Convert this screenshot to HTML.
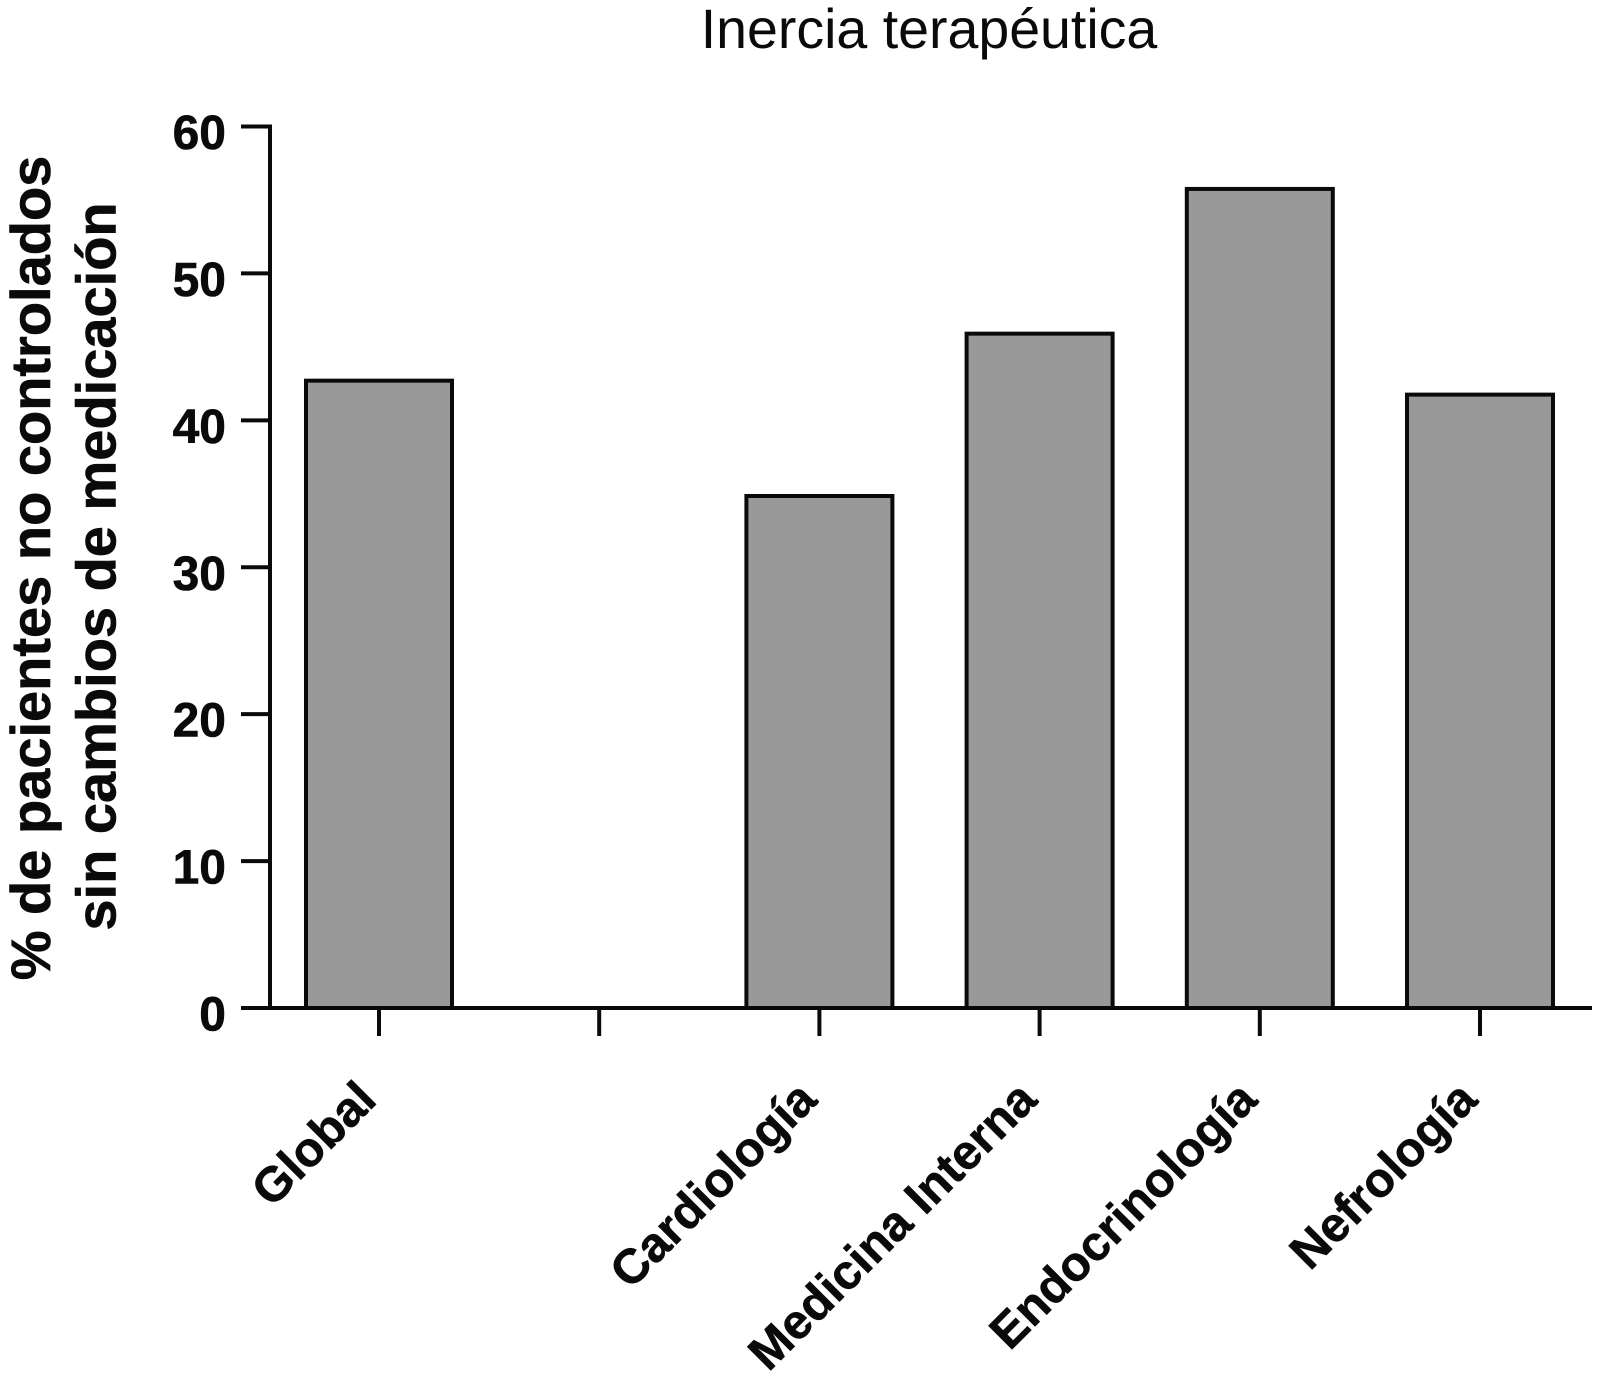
<!DOCTYPE html>
<html lang="es">
<head>
<meta charset="utf-8">
<title>Inercia terapéutica</title>
<style>
html,body{margin:0;padding:0;background:#fff;width:1597px;height:1389px;overflow:hidden}
svg{display:block}
text{font-family:"Liberation Sans",Arial,sans-serif;fill:#0a0a0a}
.b{font-weight:700;stroke:#0a0a0a;stroke-width:0.6px}
</style>
</head>
<body>
<svg id="chart" width="1597" height="1389" viewBox="0 0 1597 1389" xmlns="http://www.w3.org/2000/svg">
  <rect x="0" y="0" width="1597" height="1389" fill="#fff"/>
  <text x="929" y="48" font-size="55.5" text-anchor="middle">Inercia terapéutica</text>
  <text class="b" transform="translate(50 568) rotate(-90)" font-size="56" text-anchor="middle">% de pacientes no controlados</text>
  <text class="b" transform="translate(115.5 566.5) rotate(-90)" font-size="56" text-anchor="middle">sin cambios de medicación</text>
  <g id="bars"></g>
  <g id="axes"></g>
</svg>
<script>
const categories = ["Global", "", "Cardiología", "Medicina Interna", "Endocrinología", "Nefrología"];
const values = [42.7, null, 34.85, 45.9, 55.75, 41.75];
const yTicks = [0, 10, 20, 30, 40, 50, 60];

const NS = "http://www.w3.org/2000/svg";
const y0 = 1008, y60 = 126.5, x0 = 379, step = 220.2, barW = 146, ink = "#0a0a0a", sw = 4;
function yScale(v) { return y0 - (v - 0) * (y0 - y60) / 60; }
function xScale(i) { return x0 + i * step; }
function make(tag, attrs, parent) {
  const el = document.createElementNS(NS, tag);
  for (const k in attrs) el.setAttribute(k, attrs[k]);
  parent.appendChild(el);
  return el;
}
const barsG = document.getElementById("bars");
const axesG = document.getElementById("axes");

values.forEach(function (v, i) {
  if (v === null) return;
  const top = yScale(v);
  const bar = make("rect", { x: xScale(i) - barW / 2, y: top, width: barW, height: y0 - top, fill: "#999999", stroke: ink, "stroke-width": sw }, barsG);
  
  
});

const yLine = make("line", { x1: 270, x2: 270, y1: yScale(60) - sw / 2, y2: y0, stroke: ink, "stroke-width": sw }, axesG);



const xLine = make("line", { x1: 241, x2: 1592, y1: y0, y2: y0, stroke: ink, "stroke-width": sw }, axesG);



yTicks.forEach(function (t) {
  const y = yScale(t);
  const tick = make("line", { x1: 241, x2: 270, y1: y, y2: y, stroke: ink, "stroke-width": sw }, axesG);
  
  
  const label = make("text", { x: 226, y: y + 22.5, "font-size": 48, "text-anchor": "end", class: "b" }, axesG);
  
  
  label.textContent = String(t);
});

categories.forEach(function (c, i) {
  const x = xScale(i);
  const tick = make("line", { x1: x, x2: x, y1: y0, y2: 1036, stroke: ink, "stroke-width": sw }, axesG);
  
  
  if (c) {
    const label = make("text", { transform: "translate(" + (x - 0.5) + " 1102) rotate(-45)", "font-size": 48.5, "text-anchor": "end", class: "b" }, axesG);
    
    
    label.textContent = c;
  }
});
</script>
</body>
</html>
